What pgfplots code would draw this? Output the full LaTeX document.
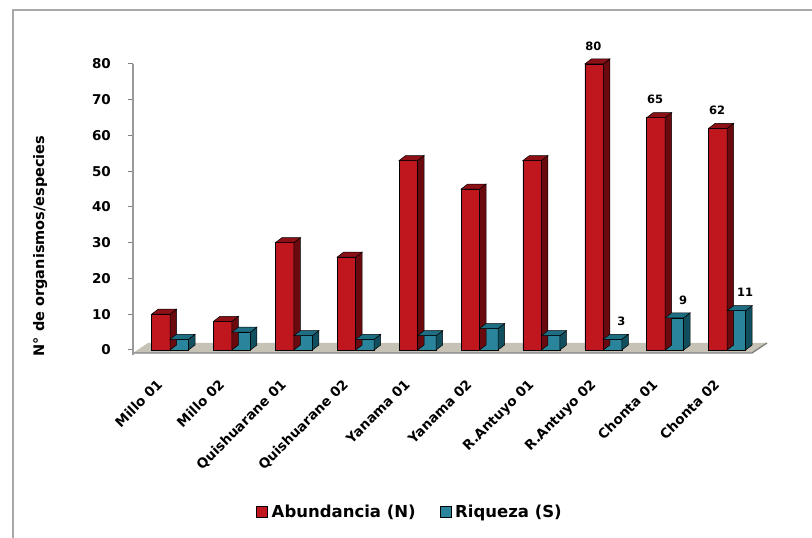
\documentclass[border=0pt]{standalone}
\usepackage{pgfplots}
\pgfplotsset{compat=1.18}
\usepackage{pgfplotstable}
\usepackage{fontspec}
\setmainfont{DejaVu Sans}
\definecolor{redF}{HTML}{C0161E}
\definecolor{redS}{HTML}{6A0A0E}
\definecolor{redT}{HTML}{8C1016}
\definecolor{tealF}{HTML}{2A859C}
\definecolor{tealS}{HTML}{114F5F}
\definecolor{tealT}{HTML}{1E6E83}
\definecolor{floorC}{HTML}{C6C3B6}
\definecolor{frameC}{HTML}{A8A8A8}
\pgfplotstableread{
x N S lN lS
0 10 3 {} {}
1 8 5 {} {}
2 30 4 {} {}
3 26 3 {} {}
4 53 4 {} {}
5 45 6 {} {}
6 53 4 {} {}
7 80 3 80 3
8 65 9 65 9
9 62 11 62 11
}\datatable
\newcommand\ppu{3.575}
\pgfplotsset{sqlegend/.style={legend image code/.code={\draw[##1, line width=0.5pt] (0pt,-5.5pt) rectangle (11pt,5.5pt);}}}
\begin{document}
\begin{tikzpicture}
\useasboundingbox (0pt,0pt) rectangle (812pt,538pt);
\draw[frameC, line width=2.5pt] (13pt,0pt) -- (13pt,528pt) -- (813pt,528pt);
\begin{axis}[
  at={(133pt,188pt)}, anchor=south west,
  scale only axis, width=619pt, height=286pt,
  xmin=-0.598, xmax=9.402, ymin=0, ymax=80,
  clip=false,
  axis lines*=left, axis line style={draw=none},
  xtick={0,...,9},
  xticklabels={Millo 01, Millo 02, Quishuarane 01, Quishuarane 02, Yanama 01, Yanama 02, R.Antuyo 01, R.Antuyo 02, Chonta 01, Chonta 02},
  ytick={0,10,...,80},
  tick align=outside, major tick length=5pt,
  xtick style={draw=none},
  ytick style={draw=gray, line width=1pt},
  /pgf/number format/assume math mode=true,
  yticklabel style={font=\fontsize{13.5}{15}\selectfont\bfseries, anchor=east, inner sep=0pt, xshift=-17pt},
  xticklabel style={font=\fontsize{13.5}{15}\selectfont\bfseries, xshift=-14pt, yshift=-23pt, rotate=45, anchor=north east, inner sep=0pt},
  ylabel={N° de organismos/especies},
  every axis y label/.style={at={(axis description cs:-0.150,0.364)}, rotate=90, anchor=center, font=\fontsize{14.5}{16}\selectfont\bfseries},
  legend style={at={(axis description cs:0.4475,-0.566)}, anchor=center, draw=none, fill=none, legend columns=2,
    font=\fontsize{16.5}{18}\selectfont\bfseries,
    /tikz/every odd column/.append style={column sep=2pt},
    /tikz/every even column/.append style={column sep=22pt}},
]
% floor
\fill[floorC] ([yshift=-3pt]axis cs:-0.598,0) -- ([yshift=-3pt]axis cs:9.402,0) -- ([xshift=15pt,yshift=7pt]axis cs:9.402,0) -- ([xshift=15pt,yshift=7pt]axis cs:-0.598,0) -- cycle;
\draw[gray, line width=1.3pt] ([yshift=-3pt]axis cs:-0.598,0) -- ([yshift=-3pt]axis cs:9.402,0) -- ([xshift=15pt,yshift=7pt]axis cs:9.402,0);
\draw[gray!80, line width=2pt] ([yshift=-5pt]axis cs:-0.598,0) -- (axis cs:-0.598,80);

% red 3D faces
\addplot[forget plot, scatter, only marks, mark=square*, mark size=1pt,
  visualization depends on={rawy \as \vy},
  scatter/@pre marker code/.code={%
    \pgfmathsetmacro\hh{-\vy*\ppu}%
    \pgfmathsetmacro\hb{5-\vy*\ppu}%
    \filldraw[fill=redS, draw=black, line width=0.5pt] (0pt,0pt) -- (6.5pt,5pt) -- (6.5pt,\hb pt) -- (0pt,\hh pt) -- cycle;
    \filldraw[fill=redT, draw=black, line width=0.5pt] (-18.5pt,0pt) -- (-12pt,5pt) -- (6.5pt,5pt) -- (0pt,0pt) -- cycle;
    \begin{scope}[opacity=0]},
  scatter/@post marker code/.code={\end{scope}},
] table[x=x,y=N]{\datatable};
\addplot[ybar, bar width=18.5pt, bar shift=-9.25pt, fill=redF, draw=black, line width=0.5pt, sqlegend,
  point meta=explicit symbolic, nodes near coords={\pgfplotspointmeta},
  nodes near coords style={font=\fontsize{11.5}{13}\selectfont\bfseries, text=black, anchor=center, yshift=18pt, xshift=-10pt}]
  table[x=x,y=N,meta=lN]{\datatable};
\addlegendentry{Abundancia (N)}

% teal 3D faces
\addplot[forget plot, scatter, only marks, mark=square*, mark size=1pt,
  visualization depends on={rawy \as \vy},
  scatter/@pre marker code/.code={%
    \pgfmathsetmacro\hh{-\vy*\ppu}%
    \pgfmathsetmacro\hb{5-\vy*\ppu}%
    \filldraw[fill=tealS, draw=black, line width=0.5pt] (18.5pt,0pt) -- (25pt,5pt) -- (25pt,\hb pt) -- (18.5pt,\hh pt) -- cycle;
    \filldraw[fill=tealT, draw=black, line width=0.5pt] (0pt,0pt) -- (6.5pt,5pt) -- (25pt,5pt) -- (18.5pt,0pt) -- cycle;
    \begin{scope}[opacity=0]},
  scatter/@post marker code/.code={\end{scope}},
] table[x=x,y=S]{\datatable};
\addplot[ybar, bar width=18.5pt, bar shift=9.25pt, fill=tealF, draw=black, line width=0.5pt, sqlegend,
  point meta=explicit symbolic, nodes near coords={\pgfplotspointmeta},
  nodes near coords style={font=\fontsize{11.5}{13}\selectfont\bfseries, text=black, anchor=center, yshift=18pt, xshift=18pt}]
  table[x=x,y=S,meta=lS]{\datatable};
\addlegendentry{Riqueza (S)}
\end{axis}
\end{tikzpicture}
\end{document}
